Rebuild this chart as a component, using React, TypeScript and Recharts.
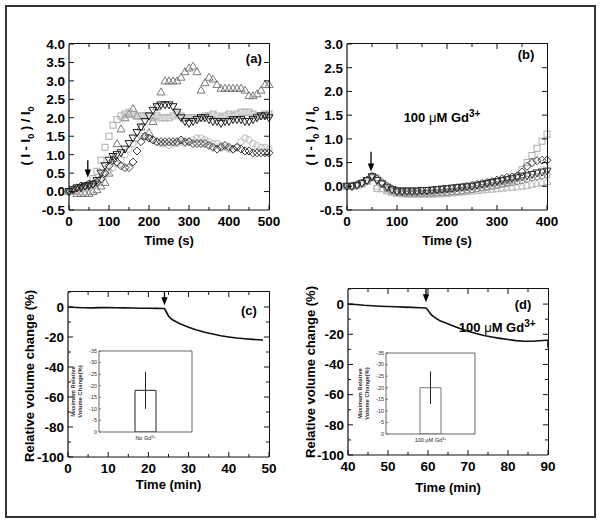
import React from 'react';
import {
  LineChart, Line, XAxis, YAxis, ReferenceLine, ReferenceDot, BarChart, Bar, ErrorBar,
} from 'recharts';

const FONT = '"Liberation Sans", Arial, Helvetica, sans-serif';
const AX = { stroke: '#111', strokeWidth: 1.2 };

// ---- panel (a): (I - I0) / I0 vs time, no Gd
const timeA = [0, 10, 20, 30, 40, 50, 60, 70, 80, 90, 100, 110, 120, 130, 140, 150, 160, 170, 180, 190, 200, 210, 220, 230, 240, 250, 260, 270, 280, 290, 300, 310, 320, 330, 340, 350, 360, 370, 380, 390, 400, 410, 420, 430, 440, 450, 460, 470, 480, 490, 500];
const aTri = [0.0, 0.0, -0.05, -0.05, -0.05, -0.05, 0.0, 0.05, 0.15, 0.25, 0.5, 0.9, 1.3, 1.7, 2.0, 2.1, 2.25, 2.05, 1.75, 1.5, 1.6, 1.9, 2.3, 2.7, 3.0, 3.0, 3.0, 3.0, 3.1, 3.25, 3.35, 3.4, 3.25, 2.75, 2.95, 3.1, 3.05, 2.9, 2.8, 2.8, 2.8, 2.8, 2.8, 2.8, 2.75, 2.6, 2.6, 2.65, 2.75, 2.9, 2.9];
const aSq = [0.0, 0.0, 0.05, 0.1, 0.15, 0.2, 0.35, 0.55, 0.85, 1.2, 1.5, 1.8, 1.95, 2.05, 2.1, 2.15, 2.1, 2.05, 2.05, 2.05, 2.05, 2.0, 2.05, 2.0, 2.0, 2.0, 2.05, 2.1, 2.05, 2.0, 2.0, 2.0, 2.0, 2.0, 2.05, 2.05, 2.1, 2.05, 2.0, 2.05, 2.1, 2.05, 2.1, 2.15, 2.15, 2.15, 2.1, 2.05, 2.05, 2.1, 2.1];
const aCirc = [0.0, 0.0, 0.05, 0.05, 0.1, 0.1, 0.15, 0.2, 0.3, 0.45, 0.55, 0.65, 0.75, 0.85, 1.0, 1.15, 1.3, 1.45, 1.5, 1.5, 1.45, 1.4, 1.35, 1.3, 1.3, 1.25, 1.3, 1.3, 1.35, 1.3, 1.35, 1.4, 1.45, 1.45, 1.4, 1.35, 1.3, 1.3, 1.25, 1.2, 1.15, 1.15, 1.2, 1.35, 1.45, 1.4, 1.3, 1.25, 1.2, 1.2, 1.15];
const aDia = [0.0, 0.05, 0.1, 0.15, 0.15, 0.2, 0.2, 0.25, 0.35, 0.5, 0.7, 0.85, 0.8, 0.7, 0.65, 0.65, 0.8, 1.1, 1.35, 1.5, 1.45, 1.4, 1.35, 1.35, 1.35, 1.35, 1.35, 1.35, 1.4, 1.35, 1.35, 1.3, 1.3, 1.3, 1.3, 1.25, 1.2, 1.15, 1.2, 1.25, 1.2, 1.15, 1.2, 1.15, 1.1, 1.1, 1.05, 1.05, 1.05, 1.05, 1.05];
const aInv = [0.0, 0.05, 0.1, 0.1, 0.15, 0.15, 0.2, 0.3, 0.5, 0.7, 0.85, 0.95, 1.0, 1.05, 1.15, 1.3, 1.45, 1.6, 1.75, 1.9, 2.05, 2.2, 2.3, 2.35, 2.35, 2.35, 2.3, 2.15, 2.0, 1.9, 1.85, 1.9, 1.95, 2.0, 2.0, 1.95, 1.9, 1.9, 1.85, 1.9, 1.9, 1.95, 1.95, 1.95, 1.9, 1.9, 1.95, 2.0, 2.05, 2.05, 2.0];
const aXTicks = [0, 50, 100, 150, 200, 250, 300, 350, 400, 450, 500];
const aXMajor = [0, 100, 200, 300, 400, 500];
const aYTicks = [-0.5, 0, 0.5, 1.0, 1.5, 2.0, 2.5, 3.0, 3.5, 4.0];

// ---- panel (b): with 100 uM Gd3+
const timeB = [0, 10, 20, 30, 40, 50, 60, 70, 80, 90, 100, 110, 120, 130, 140, 150, 160, 170, 180, 190, 200, 210, 220, 230, 240, 250, 260, 270, 280, 290, 300, 310, 320, 330, 340, 350, 360, 370, 380, 390, 400];
const bSq = [0, 0, 0.02, 0.06, 0.12, 0.18, -0.05, -0.05, -0.08, -0.1, -0.12, -0.13, -0.14, -0.14, -0.14, -0.14, -0.14, -0.13, -0.13, -0.12, -0.12, -0.11, -0.1, -0.09, -0.08, -0.07, -0.05, -0.03, -0.01, 0.01, 0.03, 0.05, 0.08, 0.12, 0.2, 0.35, 0.5, 0.65, 0.8, 0.95, 1.1];
const bDia = [0, 0, 0.03, 0.07, 0.13, 0.2, 0.15, 0.08, 0.0, -0.06, -0.1, -0.11, -0.11, -0.11, -0.11, -0.1, -0.1, -0.09, -0.08, -0.07, -0.06, -0.05, -0.03, -0.02, 0.0, 0.02, 0.04, 0.06, 0.08, 0.1, 0.13, 0.16, 0.19, 0.2, 0.22, 0.3, 0.42, 0.5, 0.54, 0.55, 0.55];
const bCirc = [0, 0, 0.02, 0.06, 0.12, 0.22, 0.18, 0.05, -0.05, -0.1, -0.13, -0.14, -0.15, -0.15, -0.15, -0.15, -0.15, -0.15, -0.14, -0.14, -0.13, -0.12, -0.11, -0.1, -0.08, -0.07, -0.05, -0.03, -0.02, 0.0, 0.02, 0.04, 0.06, 0.08, 0.1, 0.12, 0.15, 0.18, 0.2, 0.22, 0.25];
const bInv = [0, 0, 0.02, 0.06, 0.12, 0.2, 0.12, 0.05, -0.02, -0.07, -0.1, -0.1, -0.1, -0.1, -0.1, -0.09, -0.09, -0.08, -0.07, -0.06, -0.05, -0.04, -0.03, -0.02, -0.01, 0.0, 0.02, 0.04, 0.06, 0.08, 0.1, 0.12, 0.14, 0.16, 0.18, 0.2, 0.22, 0.25, 0.28, 0.3, 0.32];
const bTri = [0, 0, 0.02, 0.05, 0.1, 0.18, 0.0, -0.05, -0.1, -0.13, -0.15, -0.16, -0.17, -0.17, -0.17, -0.17, -0.17, -0.17, -0.16, -0.16, -0.15, -0.14, -0.13, -0.12, -0.11, -0.1, -0.09, -0.08, -0.07, -0.06, -0.05, -0.04, -0.03, -0.02, -0.01, 0.0, 0.02, 0.04, 0.06, 0.08, 0.1];
const bXTicks = [0, 50, 100, 150, 200, 250, 300, 350, 400];
const bXMajor = [0, 100, 200, 300, 400];
const bYTicks = [-0.5, 0, 0.5, 1.0, 1.5, 2.0, 2.5, 3.0];

// ---- panel (c): relative volume change, no Gd
const cTime = [0, 2, 4, 6, 8, 10, 12, 14, 16, 18, 20, 22, 23.5, 24, 24.5, 25, 25.5, 26, 27, 28, 30, 32, 34, 36, 38, 40, 42, 44, 46, 48.5];
const cVol = [0, -0.3, -0.5, -0.6, -0.4, -0.3, -0.5, -0.6, -0.7, -0.8, -0.8, -0.9, -1.0, -1.0, -3.5, -6, -7.5, -8.5, -10, -11.3, -13.5, -15.3, -16.8, -18, -19.2, -20, -20.7, -21.2, -21.6, -22];
const cXTicks = [0, 5, 10, 15, 20, 25, 30, 35, 40, 45, 50];
const cXMajor = [0, 10, 20, 30, 40, 50];

// ---- panel (d): relative volume change, 100 uM Gd3+
const dTime = [40, 42, 44, 46, 48, 50, 52, 54, 56, 58, 59.5, 60, 60.5, 61, 62, 63, 64, 66, 68, 70, 72, 74, 76, 78, 80, 82, 84, 86, 88, 89.5, 90, 90];
const dVol = [0, -0.3, -0.8, -1.1, -1.4, -1.6, -1.8, -2.0, -2.2, -2.4, -2.6, -4, -6, -7.5, -9.5, -11, -12, -14.2, -16.2, -18, -19.5, -20.8, -21.8, -22.7, -23.5, -24.2, -24.6, -24.6, -24.3, -24, -24, -29];
const dXTicks = [40, 45, 50, 55, 60, 65, 70, 75, 80, 85, 90];
const dXMajor = [40, 50, 60, 70, 80, 90];

const volYTicks = [-100, -90, -80, -70, -60, -50, -40, -30, -20, -10, 0, 10];
const volYMajor = [-100, -80, -60, -40, -20, 0];

// ---- insets: maximum relative volume change
const insetCLabel = 'No Gd';
const insetCValue = -18;
const insetCErr = 8;
const insetDLabel = '100 \u03BCM Gd';
const insetDValue = -20;
const insetDErr = 7;
const insetYTicks = [-35, -30, -25, -20, -15, -10, -5, 0];

const rowsA = timeA.map((t, i) => ({ t, tri: aTri[i], sq: aSq[i], circ: aCirc[i], dia: aDia[i], inv: aInv[i] }));
const rowsB = timeB.map((t, i) => ({ t, sq: bSq[i], dia: bDia[i], circ: bCirc[i], inv: bInv[i], tri: bTri[i] }));
const rowsC = cTime.map((t, i) => ({ t, v: cVol[i] }));
const rowsD = dTime.map((t, i) => ({ t, v: dVol[i] }));
const insetC = [{ name: insetCLabel, v: insetCValue, err: insetCErr }];
const insetD = [{ name: insetDLabel, v: insetDValue, err: insetDErr }];

// panel boxes: where each chart sits and how much room its axes take
interface Box { left: number; top: number; w: number; h: number; mTop: number; mRight: number; yW: number; xH: number }
const LAYOUT: Record<'a' | 'b' | 'c' | 'd', Box> = {
  a: { left: 0, top: 0, w: 300, h: 260, mTop: 44, mRight: 31, yW: 69, xH: 50 },
  b: { left: 300, top: 0, w: 300, h: 260, mTop: 44, mRight: 53, yW: 47, xH: 50 },
  c: { left: 0, top: 260, w: 300, h: 263, mTop: 32, mRight: 31, yW: 68, xH: 66 },
  d: { left: 300, top: 260, w: 300, h: 263, mTop: 29, mRight: 52, yW: 48, xH: 68 },
};

type Side = 'bottom' | 'left';

function makeTick(side: Side, majors: number[], fmt: (v: number) => string, fs = 13.5, len = 5, minorLen = 3) {
  return (p: any) => {
    const { x, y, payload } = p;
    const v = payload.value;
    const major = majors.some((m) => Math.abs(m - v) < 1e-6);
    const L = major ? len : minorLen;
    const line = side === 'bottom'
      ? <line x1={x} x2={x} y1={y} y2={y - L} />
      : <line x1={x} x2={x + L} y1={y} y2={y} />;
    const ts = { fontFamily: FONT, fontWeight: 700, fontSize: fs, fill: '#000', stroke: 'none' } as const;
    return (
      <g stroke="#111" strokeWidth={1}>
        {line}
        {major && side === 'bottom' && (
          <text x={x} y={y + fs + 2} textAnchor="middle" style={ts}>{fmt(v)}</text>
        )}
        {major && side === 'left' && (
          <text x={x - 4} y={y} dy="0.36em" textAnchor="end" style={ts}>{fmt(v)}</text>
        )}
      </g>
    );
  };
}

const tickShape = (dx: number, dy: number) => (p: any) => (
  <line x1={p.cx} x2={p.cx + dx} y1={p.cy} y2={p.cy + dy} stroke="#111" strokeWidth={1} />
);

// inward tick marks along the top and right edges, kept a hair inside the domain
function edgeTicks(xDomain: number[], yDomain: number[], xTicks: number[], xMajor: number[], yTicks: number[], yMajor: number[]) {
  const ex = (xDomain[1] - xDomain[0]) * 1e-4;
  const ey = (yDomain[1] - yDomain[0]) * 1e-4;
  const x1 = xDomain[1] - ex;
  const y1 = yDomain[1] - ey;
  const out: React.ReactElement[] = [];
  xTicks.filter((x) => x > xDomain[0] && x < xDomain[1]).forEach((x) => out.push(
    <ReferenceDot key={`tt-${x}`} xAxisId="b" yAxisId="l" x={x} y={y1} r={1}
      shape={tickShape(0, xMajor.includes(x) ? 5 : 3)} />,
  ));
  yTicks.filter((y) => y > yDomain[0] && y < yDomain[1]).forEach((y) => out.push(
    <ReferenceDot key={`rt-${y}`} xAxisId="b" yAxisId="l" x={x1} y={y} r={1}
      shape={tickShape(yMajor.includes(y) ? -5 : -3, 0)} />,
  ));
  return out;
}

// top and right border of a panel's plot area
function PlotEdge({ box }: { box: Box }) {
  const x0 = box.left + box.yW;
  const x1 = box.left + box.w - box.mRight;
  const y0 = box.top + box.mTop;
  const y1 = box.top + box.h - box.xH;
  return (
    <div style={{
      position: 'absolute', left: x0, top: y0 - 0.6, width: x1 - x0 + 0.6, height: y1 - y0 + 0.6,
      borderTop: '1.2px solid #111', borderRight: '1.2px solid #111', boxSizing: 'border-box', pointerEvents: 'none',
    }} />
  );
}

function insetTick(p: any) {
  const { x, y, payload } = p;
  return (
    <g stroke="#333" strokeWidth={0.6}>
      <line x1={x} x2={x + 2} y1={y} y2={y} />
      <text x={x - 2} y={y} dy="0.35em" textAnchor="end" stroke="none" fill="#333"
        style={{ fontFamily: FONT, fontSize: 5.5 }}>{payload.value}</text>
    </g>
  );
}

function insetCatTick(p: any) {
  const { x, y, payload } = p;
  return (
    <text x={x} y={y + 8} textAnchor="middle" fill="#222" style={{ fontFamily: FONT, fontSize: 5.5 }}>
      {payload.value}
      <tspan dy={-2} fontSize={3.8}>3+</tspan>
    </text>
  );
}

const titleStyle = { fontFamily: FONT, fontWeight: 700, fontSize: 13, fill: '#000' } as const;

function yTitle(dx: number, dy: number, body: React.ReactNode) {
  return {
    content: (p: any) => {
      const vb = p.viewBox;
      const x = vb.x + dx;
      const y = vb.y + vb.height / 2 + dy;
      return (
        <text x={x} y={y} dy="0.35em" transform={`rotate(-90 ${x} ${y})`} textAnchor="middle" style={titleStyle}>
          {body}
        </text>
      );
    },
  };
}

function xTitle(dy: number, body: React.ReactNode) {
  return {
    content: (p: any) => {
      const vb = p.viewBox;
      return (
        <text x={vb.x + vb.width / 2} y={vb.y + dy} dy="0.35em" textAnchor="middle" style={titleStyle}>
          {body}
        </text>
      );
    },
  };
}

const intensityTitle = (
  <>
    <tspan>( I - I</tspan>
    <tspan dy={4} fontSize={9}>0</tspan>
    <tspan dy={-4}> ) / I</tspan>
    <tspan dy={4} fontSize={9}>0</tspan>
  </>
);

function marker(kind: string, color: string) {
  return (p: any) => {
    const { cx, cy, index } = p;
    const k = `m-${kind}-${index}`;
    if (cx == null || cy == null) return <g key={k} />;
    const s = { fill: 'none', stroke: color, strokeWidth: 1 };
    if (kind === 'sq') return <rect key={k} x={cx - 3} y={cy - 3} width={6} height={6} {...s} />;
    if (kind === 'circ') return <circle key={k} cx={cx} cy={cy} r={3.2} {...s} />;
    if (kind === 'tri') return <polygon key={k} points={`${cx},${cy - 4} ${cx + 4},${cy + 3} ${cx - 4},${cy + 3}`} {...s} />;
    if (kind === 'inv') return <polygon key={k} points={`${cx},${cy + 4} ${cx + 4},${cy - 3} ${cx - 4},${cy - 3}`} {...s} />;
    return <polygon key={k} points={`${cx},${cy - 4} ${cx + 4},${cy} ${cx},${cy + 4} ${cx - 4},${cy}`} {...s} />;
  };
}

const arrowHead = (p: any) => (
  <polygon points={`${p.cx - 3.2},${p.cy - 8} ${p.cx + 3.2},${p.cy - 8} ${p.cx},${p.cy}`} fill="#000" />
);

function textAt(body: React.ReactNode, fs = 13) {
  return (p: any) => (
    <text x={p.cx} y={p.cy} dy="0.35em" textAnchor="middle"
      style={{ fontFamily: FONT, fontWeight: 700, fontSize: fs, fill: '#000' }}>
      {body}
    </text>
  );
}

const gdText = (
  <>
    <tspan>100 </tspan>
    <tspan fontWeight={400}>{'\u03BC'}</tspan>
    <tspan>M Gd</tspan>
    <tspan dy={-5} fontSize={10}>3+</tspan>
  </>
);

const fmt1 = (v: number) => v.toFixed(1);
const fmt0 = (v: number) => String(v);

interface MarkerSeries { key: string; kind: string; color: string }
const seriesA: MarkerSeries[] = [
  { key: 'tri', kind: 'tri', color: '#7a7a7a' },
  { key: 'sq', kind: 'sq', color: '#ababab' },
  { key: 'circ', kind: 'circ', color: '#bdbdbd' },
  { key: 'dia', kind: 'dia', color: '#3a3a3a' },
  { key: 'inv', kind: 'inv', color: '#1e1e1e' },
];
const seriesB: MarkerSeries[] = [
  { key: 'sq', kind: 'sq', color: '#ababab' },
  { key: 'tri', kind: 'tri', color: '#bdbdbd' },
  { key: 'circ', kind: 'circ', color: '#8a8a8a' },
  { key: 'inv', kind: 'inv', color: '#2a2a2a' },
  { key: 'dia', kind: 'dia', color: '#3a3a3a' },
];

const margins = (b: Box) => ({ top: b.mTop, right: b.mRight, bottom: 0, left: 0 });

export default function App() {
  const A = LAYOUT.a;
  const B = LAYOUT.b;
  const C = LAYOUT.c;
  const D = LAYOUT.d;
  return (
    <div style={{ position: 'absolute', left: 0, top: 0, width: 602, height: 523, background: '#fff', fontFamily: FONT }}>
      <div style={{ position: 'absolute', left: 5, top: 5, width: 591, height: 513, border: '2px solid #333', boxSizing: 'border-box' }} />

      {/* (a) */}
      <div style={{ position: 'absolute', left: A.left, top: A.top }}>
        <LineChart width={A.w} height={A.h} data={rowsA} margin={margins(A)}>
          <XAxis xAxisId="b" dataKey="t" type="number" domain={[0, 500]} ticks={aXTicks} height={A.xH}
            tickSize={0} tickMargin={0} interval={0} tickLine={false} axisLine={AX}
            tick={makeTick('bottom', aXMajor, fmt0)} label={xTitle(30, 'Time (s)')} />
          <YAxis yAxisId="l" type="number" domain={[-0.5, 4.0]} ticks={aYTicks} width={A.yW}
            tickSize={0} tickMargin={0} interval={0} tickLine={false} axisLine={AX}
            tick={makeTick('left', aYTicks, fmt1)} label={yTitle(25, 9, intensityTitle)} />
          {seriesA.map((s) => (
            <Line key={s.key} xAxisId="b" yAxisId="l" dataKey={s.key} stroke="none" isAnimationActive={false}
              dot={marker(s.kind, s.color)} activeDot={false} />
          ))}
          {edgeTicks([0, 500], [-0.5, 4.0], aXTicks, aXMajor, aYTicks, aYTicks)}
          <ReferenceLine xAxisId="b" yAxisId="l" segment={[{ x: 47, y: 0.85 }, { x: 47, y: 0.5 }]} stroke="#000" strokeWidth={1.3} />
          <ReferenceDot xAxisId="b" yAxisId="l" x={47} y={0.38} r={1} shape={arrowHead} />
          <ReferenceDot xAxisId="b" yAxisId="l" x={462} y={3.62} r={1} shape={textAt('(a)')} />
        </LineChart>
      </div>

      {/* (b) */}
      <div style={{ position: 'absolute', left: B.left, top: B.top }}>
        <LineChart width={B.w} height={B.h} data={rowsB} margin={margins(B)}>
          <XAxis xAxisId="b" dataKey="t" type="number" domain={[0, 400]} ticks={bXTicks} height={B.xH}
            tickSize={0} tickMargin={0} interval={0} tickLine={false} axisLine={AX}
            tick={makeTick('bottom', bXMajor, fmt0)} label={xTitle(30, 'Time (s)')} />
          <YAxis yAxisId="l" type="number" domain={[-0.5, 3.0]} ticks={bYTicks} width={B.yW}
            tickSize={0} tickMargin={0} interval={0} tickLine={false} axisLine={AX}
            tick={makeTick('left', bYTicks, fmt1)} label={yTitle(10, 9, intensityTitle)} />
          {seriesB.map((s) => (
            <Line key={s.key} xAxisId="b" yAxisId="l" dataKey={s.key} stroke="none" isAnimationActive={false}
              dot={marker(s.kind, s.color)} activeDot={false} />
          ))}
          {edgeTicks([0, 400], [-0.5, 3.0], bXTicks, bXMajor, bYTicks, bYTicks)}
          <ReferenceLine xAxisId="b" yAxisId="l" segment={[{ x: 48, y: 0.73 }, { x: 48, y: 0.45 }]} stroke="#000" strokeWidth={1.3} />
          <ReferenceDot xAxisId="b" yAxisId="l" x={48} y={0.31} r={1} shape={arrowHead} />
          <ReferenceDot xAxisId="b" yAxisId="l" x={358} y={2.77} r={1} shape={textAt('(b)')} />
          <ReferenceDot xAxisId="b" yAxisId="l" x={190} y={1.46} r={1} shape={textAt(gdText)} />
        </LineChart>
      </div>

      {/* (c) */}
      <div style={{ position: 'absolute', left: C.left, top: C.top }}>
        <LineChart width={C.w} height={C.h} data={rowsC} margin={margins(C)}>
          <XAxis xAxisId="b" dataKey="t" type="number" domain={[0, 50]} ticks={cXTicks} height={C.xH}
            tickSize={0} tickMargin={0} interval={0} tickLine={false} axisLine={AX}
            tick={makeTick('bottom', cXMajor, fmt0)} label={xTitle(27, 'Time (min)')} />
          <YAxis yAxisId="l" type="number" domain={[-100, 10]} ticks={volYTicks} width={C.yW}
            tickSize={0} tickMargin={0} interval={0} tickLine={false} axisLine={AX}
            tick={makeTick('left', volYMajor, fmt0)} label={yTitle(29, 1.5, 'Relative volume change (%)')} />
          <Line xAxisId="b" yAxisId="l" dataKey="v" stroke="#111" strokeWidth={1.6} dot={false} activeDot={false} isAnimationActive={false} />
          {edgeTicks([0, 50], [-100, 10], cXTicks, cXMajor, volYTicks, volYMajor)}
          <ReferenceLine xAxisId="b" yAxisId="l" segment={[{ x: 24, y: 10 }, { x: 24, y: 4 }]} stroke="#000" strokeWidth={1.3} />
          <ReferenceDot xAxisId="b" yAxisId="l" x={24} y={1.2} r={1} shape={arrowHead} />
          <ReferenceDot xAxisId="b" yAxisId="l" x={45} y={-2} r={1} shape={textAt('(c)')} />
        </LineChart>
      </div>

      {/* (d) */}
      <div style={{ position: 'absolute', left: D.left, top: D.top }}>
        <LineChart width={D.w} height={D.h} data={rowsD} margin={margins(D)}>
          <XAxis xAxisId="b" dataKey="t" type="number" domain={[40, 90]} ticks={dXTicks} height={D.xH}
            tickSize={0} tickMargin={0} interval={0} tickLine={false} axisLine={AX}
            tick={makeTick('bottom', dXMajor, fmt0)} label={xTitle(32, 'Time (min)')} />
          <YAxis yAxisId="l" type="number" domain={[-100, 10]} ticks={volYTicks} width={D.yW}
            tickSize={0} tickMargin={0} interval={0} tickLine={false} axisLine={AX}
            tick={makeTick('left', volYMajor, fmt0)} label={yTitle(10, 0, 'Relative volume change (%)')} />
          <Line xAxisId="b" yAxisId="l" dataKey="v" stroke="#111" strokeWidth={1.6} dot={false} activeDot={false} isAnimationActive={false} />
          {edgeTicks([40, 90], [-100, 10], dXTicks, dXMajor, volYTicks, volYMajor)}
          <ReferenceLine xAxisId="b" yAxisId="l" segment={[{ x: 59.5, y: 10 }, { x: 59.5, y: 4 }]} stroke="#000" strokeWidth={1.3} />
          <ReferenceDot xAxisId="b" yAxisId="l" x={59.5} y={1.2} r={1} shape={arrowHead} />
          <ReferenceDot xAxisId="b" yAxisId="l" x={83.75} y={0} r={1} shape={textAt('(d)')} />
          <ReferenceDot xAxisId="b" yAxisId="l" x={77.3} y={-15.5} r={1} shape={textAt(gdText)} />
        </LineChart>
      </div>

      <PlotEdge box={A} />
      <PlotEdge box={B} />
      <PlotEdge box={C} />
      <PlotEdge box={D} />

      {/* inset (c) */}
      <div style={{ position: 'absolute', left: 60, top: 345 }}>
        <InsetChart data={insetC} width={140} right={7} stroke="#222" />
      </div>

      {/* inset (d) */}
      <div style={{ position: 'absolute', left: 347, top: 347 }}>
        <InsetChart data={insetD} width={135} right={6} stroke="#777" />
      </div>
    </div>
  );
}

function InsetChart({ data, width, right, stroke }: { data: any[]; width: number; right: number; stroke: string }) {
  const IAX = { stroke: '#555', strokeWidth: 0.9 };
  return (
    <BarChart width={width} height={100} data={data} margin={{ top: 6, right, bottom: 0, left: 0 }}>
      <XAxis xAxisId="b" dataKey="name" type="category" height={13} tickSize={0} tickMargin={0}
        tickLine={false} axisLine={IAX} interval={0} tick={insetCatTick} />
      <YAxis yAxisId="l" type="number" domain={[-35, 0]} reversed ticks={insetYTicks} width={39}
        tickSize={0} tickMargin={0} interval={0} tickLine={false} axisLine={IAX} allowDataOverflow
        tick={insetTick}
        label={{
          content: (p: any) => {
            const vb = p.viewBox;
            const cy = vb.y + vb.height / 2;
            const lines = ['Maximum Relative', 'Volume Change(%)'];
            return (
              <g>
                {lines.map((s, i) => {
                  const x = vb.x + 13 + i * 6.5;
                  return (
                    <text key={s} x={x} y={cy} dy="0.35em" transform={`rotate(-90 ${x} ${cy})`} textAnchor="middle"
                      style={{ fontFamily: FONT, fontSize: 5.8, fontWeight: 700, fill: '#333' }}>{s}</text>
                  );
                })}
              </g>
            );
          },
        }} />
      <YAxis yAxisId="r" orientation="right" type="number" domain={[-35, 0]} width={1} tick={false} tickLine={false} axisLine={IAX} allowDataOverflow />
      <ReferenceLine xAxisId="b" yAxisId="l" y={-35} stroke="#555" strokeWidth={0.9} ifOverflow="visible" />
      <Bar xAxisId="b" yAxisId="l" dataKey="v" barSize={21} fill="#fff" stroke={stroke} strokeWidth={1} isAnimationActive={false}>
        <ErrorBar dataKey="err" width={0} stroke="#222" strokeWidth={1} direction="y" />
      </Bar>
    </BarChart>
  );
}
